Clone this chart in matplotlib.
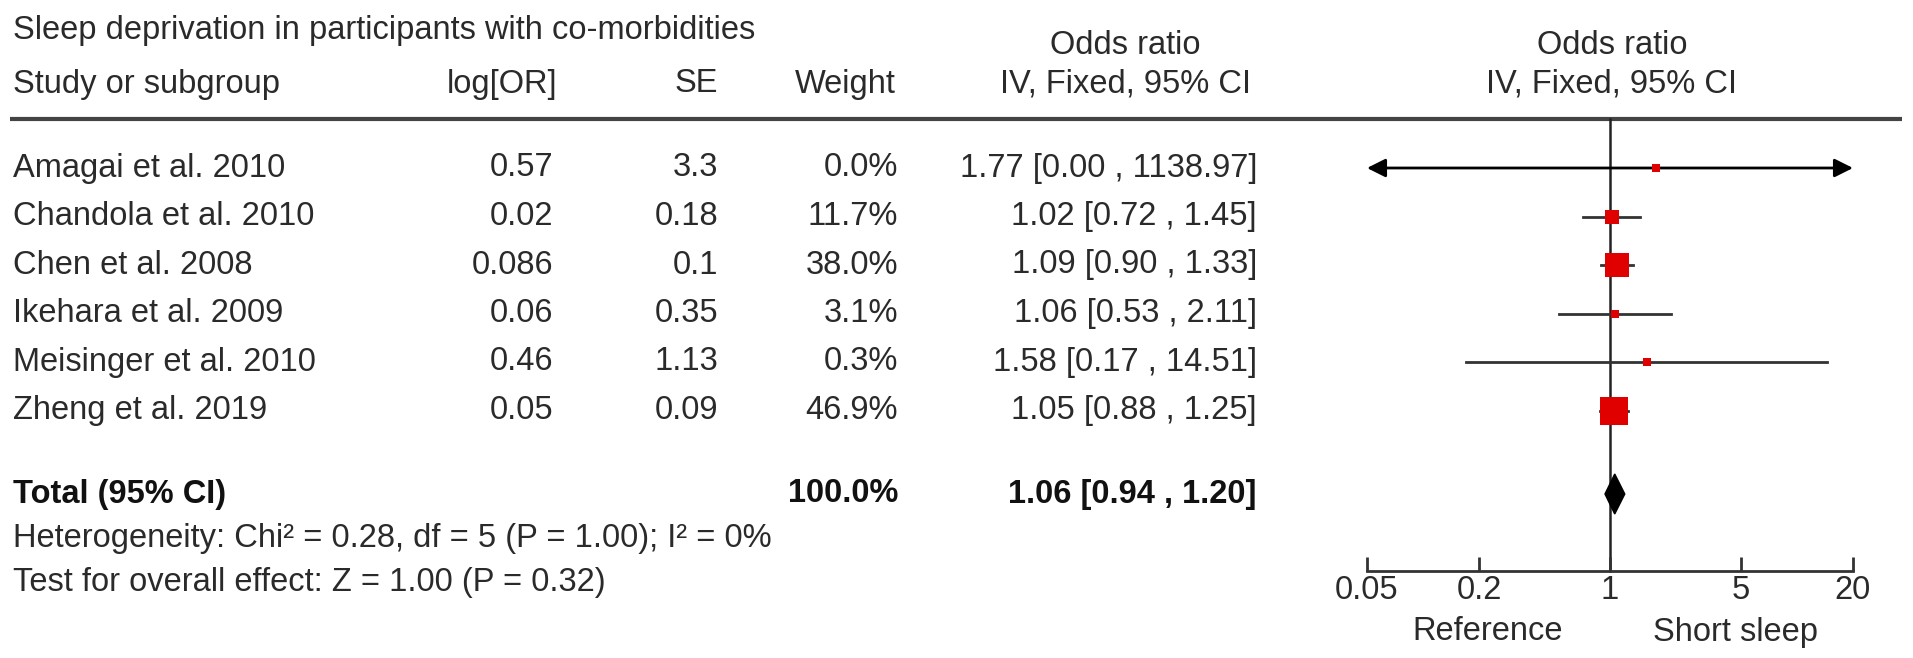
import numpy as np
import matplotlib.pyplot as plt

plt.rcParams['font.family'] = ['Liberation Sans', 'DejaVu Sans']

studies = ['Amagai et al. 2010', 'Chandola et al. 2010', 'Chen et al. 2008',
           'Ikehara et al. 2009', 'Meisinger et al. 2010', 'Zheng et al. 2019']
log_or = ['0.57', '0.02', '0.086', '0.06', '0.46', '0.05']
se = ['3.3', '0.18', '0.1', '0.35', '1.13', '0.09']
weight = [0.0, 11.7, 38.0, 3.1, 0.3, 46.9]
odds = [1.77, 1.02, 1.09, 1.06, 1.58, 1.05]
ci_lo = [0.00, 0.72, 0.90, 0.53, 0.17, 0.88]
ci_hi = [1138.97, 1.45, 1.33, 2.11, 14.51, 1.25]

total_or = 1.06
total_lo = 0.94
total_hi = 1.20

ticks = [0.05, 0.2, 1, 5, 20]
tick_labels = ['0.05', '0.2', '1', '5', '20']

W, H = 1913, 658
fs = 23.5
txt = '#2a2a2a'
dark = '#333333'
red = '#e00000'

fig = plt.figure(figsize=(W / 100, H / 100), dpi=100)

# text layer in pixel coordinates
ax = fig.add_axes([0, 0, 1, 1])
ax.set_xlim(0, W)
ax.set_ylim(H, 0)
ax.axis('off')

row0 = 168
step = 48.5
rows_y = [row0 + i * step for i in range(len(studies))]
y_total = 494
y_het = 538
y_test = 582
y_axis = 571
y_line = 119

ax.text(13, 30, 'Sleep deprivation in participants with co-morbidities', fontsize=fs, va='center', color=txt)
ax.text(13, 84, 'Study or subgroup', fontsize=fs, va='center', color=txt)
ax.text(557, 84, 'log[OR]', fontsize=fs, va='center', ha='right', color=txt)
ax.text(718, 84, 'SE', fontsize=fs, va='center', ha='right', color=txt)
ax.text(896, 84, 'Weight', fontsize=fs, va='center', ha='right', color=txt)
ax.text(1125, 46, 'Odds ratio', fontsize=fs, va='center', ha='center', color=txt)
ax.text(1125, 84, 'IV, Fixed, 95% CI', fontsize=fs, va='center', ha='center', color=txt)
ax.text(1612, 46, 'Odds ratio', fontsize=fs, va='center', ha='center', color=txt)
ax.text(1612, 84, 'IV, Fixed, 95% CI', fontsize=fs, va='center', ha='center', color=txt)
ax.plot([10, 1902], [y_line, y_line], color='#444444', lw=3, solid_capstyle='butt')

for i, y in enumerate(rows_y):
    ax.text(13, y, studies[i], fontsize=fs, va='center', color=txt)
    ax.text(553, y, log_or[i], fontsize=fs, va='center', ha='right', color=txt)
    ax.text(718, y, se[i], fontsize=fs, va='center', ha='right', color=txt)
    ax.text(898, y, '%.1f%%' % weight[i], fontsize=fs, va='center', ha='right', color=txt)
    ax.text(1257, y, '%.2f [%.2f , %.2f]' % (odds[i], ci_lo[i], ci_hi[i]),
            fontsize=fs, va='center', ha='right', color=txt)

ax.text(13, y_total, 'Total (95% CI)', fontsize=fs, va='center', fontweight='bold', color='#111111')
ax.text(898, y_total, '%.1f%%' % sum(weight), fontsize=fs, va='center', ha='right', fontweight='bold', color='#111111')
ax.text(1257, y_total, '%.2f [%.2f , %.2f]' % (total_or, total_lo, total_hi),
        fontsize=fs, va='center', ha='right', fontweight='bold', color='#111111')
ax.text(13, y_het, 'Heterogeneity: Chi² = 0.28, df = 5 (P = 1.00); I² = 0%', fontsize=fs, va='center', color=txt)
ax.text(13, y_test, 'Test for overall effect: Z = 1.00 (P = 0.32)', fontsize=fs, va='center', color=txt)

# forest plot on log scale
x0, x1 = 1367, 1853
axf = fig.add_axes([x0 / W, 0, (x1 - x0) / W, 1])
axf.set_xscale('log')
axf.set_xlim(ticks[0], ticks[-1])
axf.set_ylim(H, 0)
axf.patch.set_alpha(0)
for s in ['top', 'left', 'right']:
    axf.spines[s].set_visible(False)
axf.spines['bottom'].set_position(('data', y_axis))
axf.spines['bottom'].set_linewidth(2)
axf.spines['bottom'].set_color(dark)
axf.set_yticks([])
axf.set_xticks(ticks)
axf.set_xticklabels(tick_labels)
axf.minorticks_off()
axf.tick_params(axis='x', direction='in', length=10, width=2, color=dark,
                labelsize=fs, pad=3, labelcolor=txt)

axf.plot([1, 1], [y_line, y_axis], color='#222222', lw=1.8, zorder=1)

for i, y in enumerate(rows_y):
    lo = max(ci_lo[i], ticks[0])
    hi = min(ci_hi[i], ticks[-1])
    if ci_lo[i] < ticks[0] or ci_hi[i] > ticks[-1]:
        axf.annotate('', xy=(ticks[0], y), xytext=(ticks[-1], y),
                     arrowprops=dict(arrowstyle='<|-|>', color='black', lw=2,
                                     mutation_scale=28, shrinkA=0, shrinkB=0))
    else:
        axf.plot([lo, hi], [y, y], color=dark, lw=2, zorder=2)
    side = max(8, 4.0 * np.sqrt(weight[i]))
    axf.plot(odds[i], y, marker='s', ms=side * 0.72, color=red, mec=red, mew=0, zorder=3)

dh = 20
axf.fill([total_lo, total_or, total_hi, total_or],
         [y_total, y_total - dh, y_total, y_total + dh], color='black', zorder=3)

axf.text(0.22, 632, 'Reference', fontsize=fs, ha='center', va='center', color=txt)
axf.text(4.7, 632, 'Short sleep', fontsize=fs, ha='center', va='center', color=txt)

fig.savefig('out.png', dpi=100)
